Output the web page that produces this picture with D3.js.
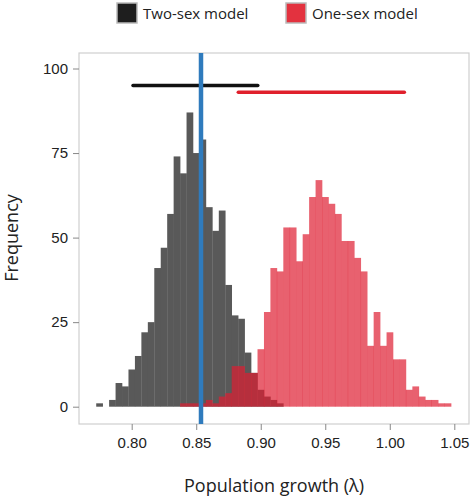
<!DOCTYPE html>
<html lang="en">
<head>
  <meta charset="UTF-8" />
  <script src="https://d3js.org/d3.v7.min.js"></script>
  <style>
    body { margin:0; padding:0; background:#fff; font-family:"Open Sans", sans-serif; }
    .tick text { font-size:15px; fill:#222; }
  </style>
</head>
<body>
  <svg width="474" height="499"></svg>
  <script>
  // histogram bins: start of first bin + width, counts per bin
  const binStart = 0.7725, binWidth = 0.005;
  const twoSexCounts = [1,0,2,7,6,11,15,22,25,41,47,57,74,69,87,75,79,59,52,58,36,27,26,16,10,5,3,2,1];
  const oneSexOffset = 13;   // first bin index of one-sex histogram
  const oneSexCounts = [1,1,1,1,2,1,3,4,12,12,10,10,17,28,41,40,53,53,43,51,62,67,62,60,57,49,49,44,40,18,28,18,22,14,14,5,6,3,2,2,1,1];
  const xTicks = [0.80, 0.85, 0.90, 0.95, 1.00, 1.05];
  const yTicks = [0, 25, 50, 75, 100];
  // credible-interval bars and observed lambda
  const twoSexRange = [0.801, 0.8977], twoSexY = 95;
  const oneSexRange = [0.8826, 1.0113], oneSexY = 93;
  const observed = 0.8537;

  const svg = d3.select('svg');
  const L = 79, R = 469, T = 53, B = 424;

  const x = d3.scaleLinear().domain([0.80, 1.05]).range([131.7, 454.3]);
  const y = d3.scaleLinear().domain([0, 100]).range([406.7, 68.5]);

  svg.append('rect').attr('x', L).attr('y', T).attr('width', R - L).attr('height', B - T)
    .attr('fill', 'none').attr('stroke', '#cfcfcf').attr('stroke-width', 1.2);

  const bins = (counts, off) => counts.map((c, i) => ({
    x0: binStart + (i + off) * binWidth, x1: binStart + (i + off + 1) * binWidth, c }))
    .filter(d => d.c > 0);

  svg.selectAll('.two').data(bins(twoSexCounts, 0)).enter().append('rect')
    .attr('x', d => x(d.x0)).attr('width', d => x(d.x1) - x(d.x0) + 0.3)
    .attr('y', d => y(d.c)).attr('height', d => y(0) - y(d.c))
    .attr('fill', '#595959');

  svg.selectAll('.one').data(bins(oneSexCounts, oneSexOffset)).enter().append('rect')
    .attr('x', d => x(d.x0)).attr('width', d => x(d.x1) - x(d.x0) + 0.3)
    .attr('y', d => y(d.c)).attr('height', d => y(0) - y(d.c))
    .attr('fill', 'rgb(222,30,50)').attr('fill-opacity', 0.7);

  svg.append('line').attr('x1', x(twoSexRange[0])).attr('x2', x(twoSexRange[1]))
    .attr('y1', y(twoSexY)).attr('y2', y(twoSexY))
    .attr('stroke', '#111').attr('stroke-width', 3.5).attr('stroke-linecap', 'round');
  svg.append('line').attr('x1', x(oneSexRange[0])).attr('x2', x(oneSexRange[1]))
    .attr('y1', y(oneSexY)).attr('y2', y(oneSexY))
    .attr('stroke', '#e0202c').attr('stroke-width', 3.5).attr('stroke-linecap', 'round');
  svg.append('line').attr('x1', x(observed)).attr('x2', x(observed))
    .attr('y1', T).attr('y2', B)
    .attr('stroke', '#2f7bbd').attr('stroke-width', 4.5);

  const xAxis = svg.append('g').attr('transform', `translate(0,${B})`)
    .call(d3.axisBottom(x).tickValues(xTicks).tickFormat(d3.format('.2f')).tickSize(6).tickPadding(7));
  const yAxis = svg.append('g').attr('transform', `translate(${L},0)`)
    .call(d3.axisLeft(y).tickValues(yTicks).tickSize(6).tickPadding(5));
  [xAxis, yAxis].forEach(a => {
    a.select('.domain').remove();
    a.selectAll('.tick line').attr('stroke', '#888');
  });

  svg.append('text').attr('x', 274).attr('y', 492).attr('text-anchor', 'middle')
    .attr('font-size', 18).attr('fill', '#222').text('Population growth (λ)');
  svg.append('text').attr('transform', 'translate(18,238) rotate(-90)').attr('text-anchor', 'middle')
    .attr('font-size', 18).attr('fill', '#222').text('Frequency');

  const legend = [{ label: 'Two-sex model', color: '#1e1e1e', x: 117 },
                  { label: 'One-sex model', color: '#e3323f', x: 286 }];
  legend.forEach(l => {
    svg.append('rect').attr('x', l.x).attr('y', 3).attr('width', 20).attr('height', 20)
      .attr('fill', l.color).attr('stroke', '#bbb').attr('stroke-width', 1.5);
    svg.append('text').attr('x', l.x + 26).attr('y', 19).attr('font-size', 15)
      .attr('fill', '#222').text(l.label);
  });
  </script>
</body>
</html>
